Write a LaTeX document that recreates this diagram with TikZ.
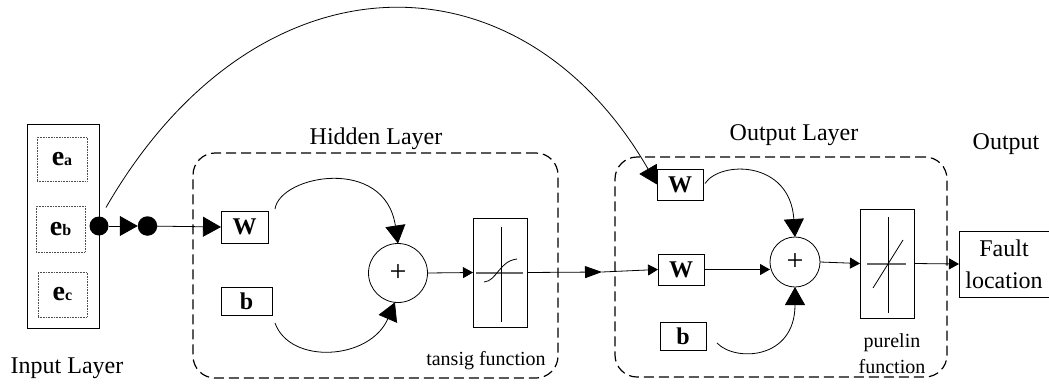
\documentclass[tikz,border=0pt]{standalone}
\usepackage{fontspec}
\setmainfont{Liberation Serif}
\usetikzlibrary{arrows.meta,calc}

\begin{document}
\begin{tikzpicture}[x=1pt,y=-1pt,
  every node/.style={inner sep=0pt,outer sep=0pt},
  wire/.style={line width=0.8pt},
  bigtip/.style={wire,-{Triangle[length=18pt,width=20pt]}},
  midtip/.style={wire,-{Triangle[length=17pt,width=12pt]}},
  smalltip/.style={wire,-{Triangle[length=10pt,width=11pt]}},
  dashbox/.style={draw,line width=1.2pt,dash pattern=on 10pt off 5pt,rounded corners=22pt},
  wbox/.style={draw,line width=0.8pt,font=\fontsize{24}{24}\selectfont\bfseries},
  ebox/.style={draw=black!70,line width=0.6pt,densely dotted},
  sumnode/.style={draw,circle,line width=0.8pt,font=\fontsize{30}{30}\selectfont},
  fbox/.style={draw,line width=0.8pt},
  dot/.style={circle,fill=black},
  lbl/.style={anchor=base,font=\fontsize{24}{24}\selectfont},
  slbl/.style={anchor=base,font=\fontsize{20}{20}\selectfont}
]
\useasboundingbox (0,0) rectangle (1049,383);

% input layer
\node[draw,line width=0.8pt,minimum width=72pt,minimum height=204pt] (inp) at (63,226) {};
\node[ebox,minimum width=50pt,minimum height=44pt] (ea) at (62,159)
  {\bfseries\fontsize{28}{28}\selectfont e\fontsize{16}{16}\selectfont a};
\node[ebox,minimum width=49pt,minimum height=46pt] (eb) at (60.5,229)
  {\bfseries\fontsize{28}{28}\selectfont e\fontsize{16}{16}\selectfont b};
\node[ebox,minimum width=49pt,minimum height=45pt] (ec) at (62.5,294.5)
  {\bfseries\fontsize{28}{28}\selectfont e\fontsize{16}{16}\selectfont c};
\node[lbl] (inlbl) at (67,373) {Input Layer};

\node[dot,minimum size=19pt] (d1) at (99,226) {};
\node[dot,minimum size=19.5pt] (d2) at (147.5,226) {};

% hidden layer
\node[dashbox,minimum width=365pt,minimum height=225pt] (hid) at (375.5,265.5) {};
\node[lbl] (hidlbl) at (376,144) {Hidden Layer};
\node[wbox,minimum width=47pt,minimum height=32pt] (hW) at (244.5,227) {W};
\node[wbox,minimum width=51pt,minimum height=28pt] (hb) at (246.5,301) {b};
\node[sumnode,minimum size=59pt] (hS) at (398,273) {+};
\node[fbox,minimum width=54pt,minimum height=109pt] (tan) at (500,272.5) {};
\node[slbl] (tanlbl) at (486,365) {tansig function};

% tansig glyph
\draw[black!60,line width=1.1pt] (476,273) -- (523,273);
\draw[line width=0.8pt] (501,227) -- (501,322);
\draw[line width=0.8pt] (484,282) .. controls (497,281) and (499,261) .. (517,259);

% output layer
\node[dashbox,minimum width=332pt,minimum height=220pt] (out) at (781,267) {};
\node[lbl] (outlbl) at (794,140) {Output Layer};
\node[wbox,minimum width=46pt,minimum height=31pt] (oW1) at (680,184.5) {W};
\node[wbox,minimum width=46pt,minimum height=31pt] (oW2) at (681,269.5) {W};
\node[wbox,minimum width=46pt,minimum height=28pt] (ob) at (683,336) {b};
\node[sumnode,minimum size=50pt] (oS) at (795,262) {+};
\node[fbox,minimum width=54pt,minimum height=109pt] (pur) at (887,263.5) {};
\node[slbl] (purlbl1) at (892,347) {purelin};
\node[slbl] (purlbl2) at (892,373) {function};

% purelin glyph
\draw[black!60,line width=1.1pt] (867,264) -- (906,264);
\draw[line width=0.8pt] (888,217) -- (888,313);
\draw[line width=0.8pt] (873,288) -- (903,240);

% final output
\node[lbl] (reslbl) at (1006,149) {Output};
\node[fbox,minimum width=90pt,minimum height=66pt,align=center,
  font=\fontsize{24}{32}\selectfont] (fault) at (1004,264) {Fault\\location};

% connectors
\coordinate (arcstart) at ($(d1.north)+(7,-9)$);
\coordinate (mid) at (602,272);

\draw[bigtip] (d1) -- (d2.west);
\draw[bigtip] (d2) -- (hW.west);
\draw[bigtip] (arcstart) .. controls +(150,-260) and +(-137,-237.5) .. (oW1.west);

\draw[bigtip] ($(hW.north east)+(7,-2)$) .. controls +(5,-34) and +(-13,-88) .. (hS.north);
\draw[bigtip] ($(hb.south east)+(3,8)$) .. controls +(15,42) and +(-25,58) .. (hS.-96);
\draw[smalltip] (hS.east) -- (tan.west);
\draw[midtip] (tan.east) -- (mid);
\draw[smalltip] (mid) -- (oW2.west);

\draw[bigtip] ($(oW1.east)+(2,-1)$) .. controls +(15,-23) and +(-5,-77) .. (oS.north);
\draw[smalltip] (oW2.east) -- (oW2.east -| oS.west);
\draw[bigtip] ($(ob.east)+(11,7)$) .. controls +(18,19) and +(0,73) .. (oS.south);
\draw[smalltip] (oS.east) -- (pur.west);
\draw[smalltip] (pur.east) -- (fault.west);
\end{tikzpicture}
\end{document}
